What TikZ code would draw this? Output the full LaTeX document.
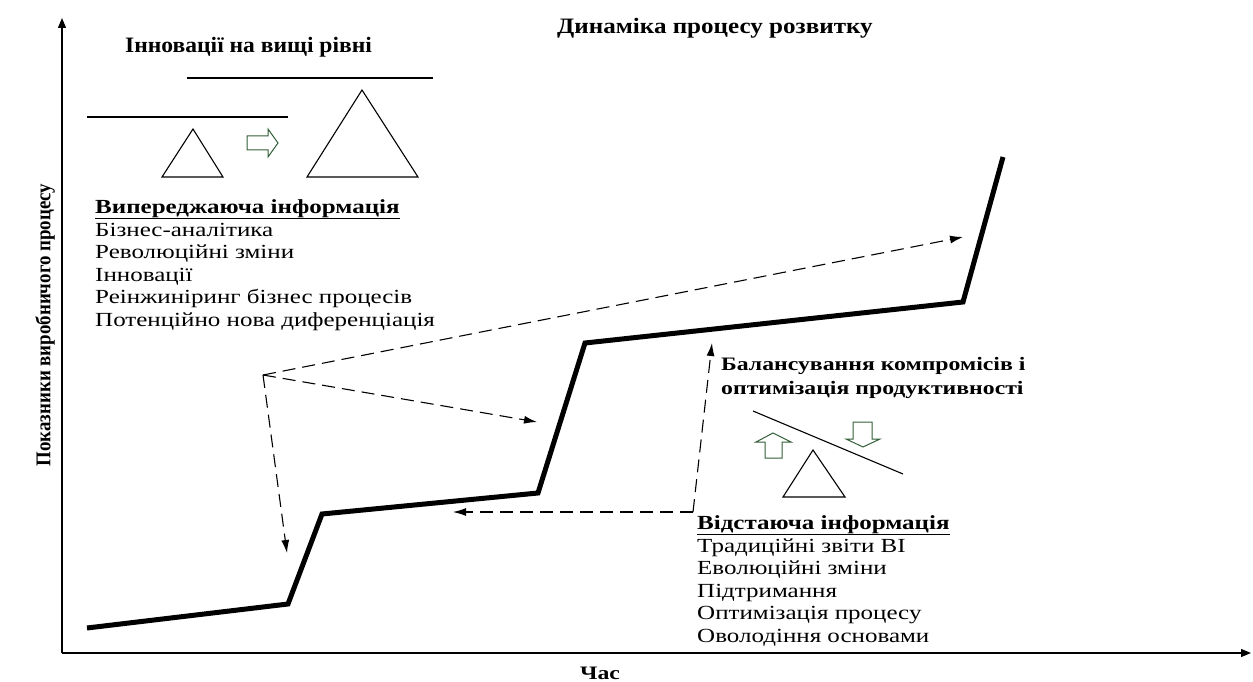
\documentclass[tikz,border=0pt]{standalone}
\usepackage{fontspec}
\setmainfont{Liberation Serif}[FakeStretch=1.25]
\newfontfamily\balfont{Liberation Serif}[FakeStretch=1.25]
\newfontfamily\ylabfont{Liberation Serif}[FakeStretch=0.9]
\newfontfamily\innovfont{Liberation Serif}[FakeStretch=1.07]
\newfontfamily\titlefont{Liberation Serif}[FakeStretch=1.14]
\usetikzlibrary{arrows.meta}
\definecolor{dgreen}{RGB}{50,95,55}
\tikzset{
  ax/.style={line width=1.3pt,-{Triangle[length=10pt,width=8pt]}},
  curve/.style={line width=5pt,line join=miter},
  dsh/.style={line width=1.1pt,dash pattern=on 13pt off 7pt,-{Latex[length=13pt,width=8pt]}},
  thin/.style={line width=1.1pt},
  garrow/.style={draw=dgreen,line width=1pt,fill=white},
  body/.style={font=\fontsize{20}{22.5}\selectfont,anchor=base west,inner sep=0pt},
  hd/.style={font=\fontsize{20}{22.5}\selectfont\bfseries,anchor=base west,inner sep=0pt},
  balhd/.style={font=\fontsize{19}{22.5}\selectfont\balfont\bfseries,anchor=base west,inner sep=0pt},
}
\begin{document}
\begin{tikzpicture}[x=1pt,y=-1pt]
\useasboundingbox (0,0) rectangle (1253,682);
% axes
\coordinate (O) at (62,653);
\coordinate (Ytop) at (62,18);
\coordinate (Xend) at (1251,653);
\draw[ax] (O) -- (Ytop);
\draw[ax] (O) -- (Xend);
\node[font=\fontsize{21}{24}\selectfont\ylabfont\bfseries,rotate=90,inner sep=0pt] (ylab) at (45,325) {Показники виробничого процесу};
\node[font=\fontsize{19}{22}\selectfont\bfseries,inner sep=0pt,anchor=base] (xlab) at (600,679) {Час};
% headings
\node[font=\fontsize{22}{24}\selectfont\titlefont\bfseries,anchor=base west,inner sep=0pt] (title) at (557,34) {Динаміка процесу розвитку};
\node[font=\fontsize{22}{24}\selectfont\innovfont\bfseries,anchor=base west,inner sep=0pt] (innov) at (125,53) {Інновації на вищі рівні};
% main curve
\coordinate (c1) at (87,628);
\coordinate (c2) at (288,604);
\coordinate (c3) at (322,514);
\coordinate (c4) at (538,493);
\coordinate (c5) at (585,343);
\coordinate (c6) at (963,302);
\coordinate (c7) at (1003,157);
\draw[curve] (c1) -- (c2) -- (c3) -- (c4) -- (c5) -- (c6) -- (c7);
% innovation pictogram
\coordinate (u1) at (187,78); \coordinate (u2) at (433,78);
\coordinate (l1) at (87,117); \coordinate (l2) at (288,117);
\draw[thin] (u1) -- (u2);
\draw[thin] (l1) -- (l2);
\coordinate (st1) at (193,129); \coordinate (st2) at (162,177); \coordinate (st3) at (223,177);
\draw[thin,line join=miter] (st1) -- (st2) -- (st3) -- cycle;
\coordinate (bt1) at (362,90); \coordinate (bt2) at (307,177); \coordinate (bt3) at (418,177);
\draw[thin,line join=miter] (bt1) -- (bt2) -- (bt3) -- cycle;
\draw[garrow] (247,136) -- (268,136) -- (268,129) -- (278,143) -- (268,157) -- (268,150) -- (247,150) -- cycle;
% left list
\node[hd] (lead) at (95,213) {\underline{Випереджаюча інформація}};
\node[body] (l1t) at (95,236) {Бізнес-аналітика};
\node[body] (l2t) at (95,258) {Революційні зміни};
\node[body] (l3t) at (95,281) {Інновації};
\node[body] (l4t) at (95,303) {Реінжиніринг бізнес процесів};
\node[body] (l5t) at (95,326) {Потенційно нова диференціація};
% dashed arrows from P
\coordinate (P) at (263,375);
\coordinate (A1) at (963,237);
\coordinate (A2) at (537,422);
\coordinate (A3) at (287,553);
\draw[dsh] (P) -- (A1);
\draw[dsh] (P) -- (A2);
\draw[dsh] (P) -- (A3);
% lagging dashed arrows
\coordinate (Q) at (693,512);
\coordinate (B1) at (453,512);
\coordinate (B2) at (712,343);
\draw[dsh] (Q) -- (B1);
\draw[dsh] (Q) -- (B2);
% balance heading
\node[balhd] (bal1) at (721,370) {Балансування компромісів і};
\node[balhd] (bal2) at (721,394) {оптимізація продуктивності};
% balance pictogram
\coordinate (bl1) at (753,411); \coordinate (bl2) at (903,474);
\draw[thin] (bl1) -- (bl2);
\coordinate (tr1) at (813,450); \coordinate (tr2) at (783,497); \coordinate (tr3) at (845,497);
\draw[thin,line join=miter] (tr1) -- (tr2) -- (tr3) -- cycle;
\draw[garrow] (765,458) -- (765,442) -- (756,442) -- (773,433) -- (791,442) -- (782,442) -- (782,458) -- cycle;
\draw[garrow] (853,422) -- (872,422) -- (872,439) -- (880,439) -- (863,447) -- (846,439) -- (853,439) -- cycle;
% right list
\node[hd] (lag) at (697,529) {\underline{Відстаюча інформація}};
\node[body] (r1t) at (697,552) {Традиційні звіти ВІ};
\node[body] (r2t) at (697,574) {Еволюційні зміни};
\node[body] (r3t) at (697,597) {Підтримання};
\node[body] (r4t) at (697,619) {Оптимізація процесу};
\node[body] (r5t) at (697,642) {Оволодіння основами};
\end{tikzpicture}
\end{document}
